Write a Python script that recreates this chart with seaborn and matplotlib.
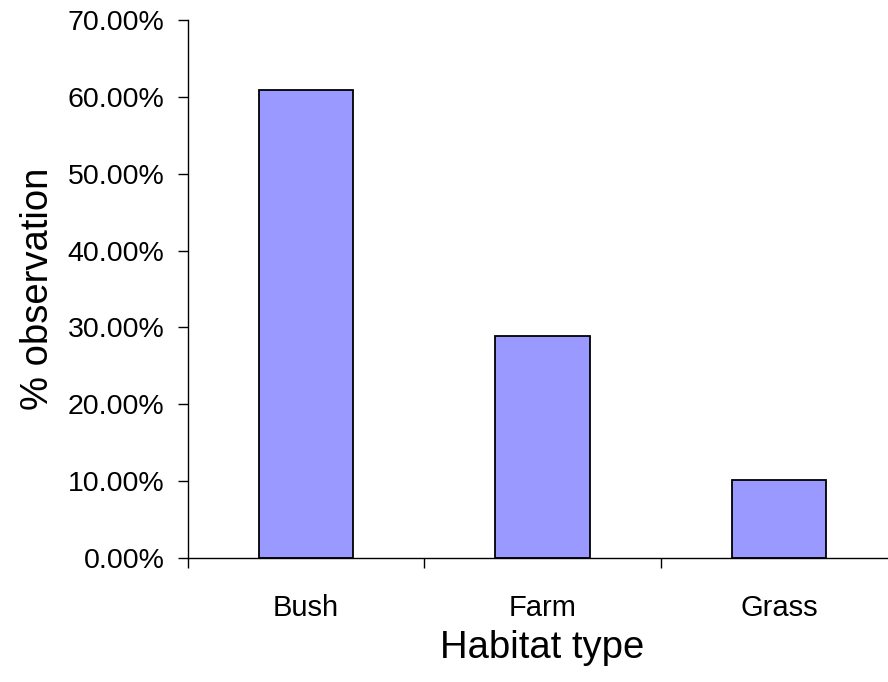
import matplotlib
matplotlib.use("Agg")
import matplotlib.pyplot as plt
import seaborn as sns
import pandas as pd
from matplotlib.ticker import FixedLocator, PercentFormatter

categories = ["Bush", "Farm", "Grass"]
values = [60.85, 28.9, 10.1]

sns.set_theme(style="white")
plt.rcParams['font.family'] = ['Liberation Sans', 'DejaVu Sans']

df = pd.DataFrame({"Habitat type": categories, "obs": values})

fig = plt.figure(figsize=(8.88, 6.82), dpi=100)
ax = fig.add_axes([188/888, 1-558/682, (897-188)/888, (558-20)/682])

sns.barplot(data=df, x="Habitat type", y="obs", color="#9999FF", saturation=1,
            edgecolor="black", linewidth=1.3, width=0.4, ax=ax)

ax.set_xlim(-0.5, 2.5)
ax.set_ylim(0, 70)
ax.set_yticks([0, 10, 20, 30, 40, 50, 60, 70])
ax.yaxis.set_major_formatter(PercentFormatter(decimals=2))
ax.xaxis.set_minor_locator(FixedLocator([-0.5, 0.5, 1.5, 2.5]))
ax.tick_params(axis='x', which='major', length=0, labelsize=21, pad=26, colors='black')
ax.tick_params(axis='x', which='minor', length=7, width=1, direction='out', bottom=True, color='black')
ax.tick_params(axis='y', which='major', length=7, width=1, direction='out', left=True, labelsize=20.5, pad=10, colors='black')

for s in ['top', 'right']:
    ax.spines[s].set_visible(False)
for s in ['left', 'bottom']:
    ax.spines[s].set_color('black')
    ax.spines[s].set_linewidth(1)

ax.set_xlabel("Habitat type", fontsize=27.5, labelpad=5.5, color='black')
ax.set_ylabel("% observation", fontsize=27.5, labelpad=8.5, color='black')

fig.savefig("out.png", dpi=100)
